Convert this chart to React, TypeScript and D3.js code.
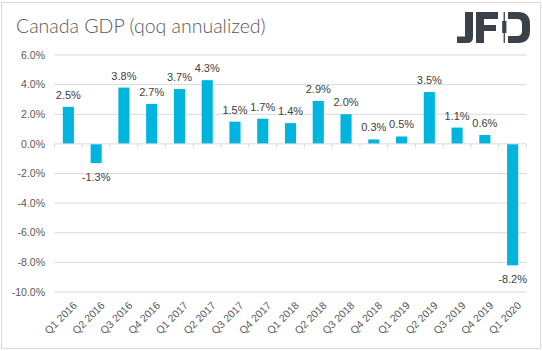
import React from "react";
import * as d3 from "d3";

const categories = ["Q1 2016","Q2 2016","Q3 2016","Q4 2016","Q1 2017","Q2 2017","Q3 2017","Q4 2017","Q1 2018","Q2 2018","Q3 2018","Q4 2018","Q1 2019","Q2 2019","Q3 2019","Q4 2019","Q1 2020"];
const values = [2.5,-1.3,3.8,2.7,3.7,4.3,1.5,1.7,1.4,2.9,2.0,0.3,0.5,3.5,1.1,0.6,-8.2];
const yTicks = [6,4,2,0,-2,-4,-6,-8,-10];
const title = "Canada GDP (qoq annualized)";

const W = 543, H = 351;
const left = 54.5, right = 526.5, top = 55, bottom = 292;
const textColor = "#595959";
const gridColor = "#D9D9D9";
const barColor = "#00B5DD";
const font = "'Liberation Sans', Arial, sans-serif";

export default function App() {
  const x = d3.scaleBand<string>().domain(categories).range([left, right]).paddingInner(0.6).paddingOuter(0.3);
  const y = d3.scaleLinear().domain([-10, 6]).range([bottom, top]);
  const step = x.step();
  const fmt = (v: number) => v.toFixed(1) + "%";
  return (
    <svg width={W} height={H} style={{ position: "absolute", left: 0, top: 0, background: "#fff" }}>
      <rect x={1.5} y={2.5} width={539} height={346} fill="#fff" stroke={gridColor} />
      <text x={16} y={33} fontFamily="Lato, 'Open Sans', sans-serif" fontWeight={300} fontSize={19.5} fill={textColor}>{title}</text>
      {/* logo */}
      <g fill="#3B4149">
        <path d="M465,12 H473 V37 Q473,43 467,43 H457 V36.5 H465 Z" />
        <path d="M476,12 H498 V19 H484 V25 H496 V31 H484 V43 H476 Z" />
        <rect x={503.6} y={12} width={1.3} height={31} />
        <rect x={502.2} y={21} width={4.2} height={12} />
        <path d="M508,12 H518 Q530,12 530,24 V31 Q530,43 518,43 H508 V36 H517 Q522,36 522,31 V24 Q522,19 517,19 H508 Z" />
      </g>
      {yTicks.map((t) => (
        <g key={t}>
          {t !== 0 && <line x1={left} x2={right} y1={y(t)} y2={y(t)} stroke={gridColor} strokeWidth={1} />}
          <text x={45} y={y(t)} dy="0.35em" textAnchor="end" fontFamily={font} fontSize={10.5} fill={textColor}>{fmt(t)}</text>
        </g>
      ))}
      {categories.map((c, i) => {
        const v = values[i];
        const bx = x(c)!;
        const y0 = y(Math.max(0, v));
        const y1 = y(Math.min(0, v));
        return (
          <g key={c}>
            <rect x={bx} y={y0} width={x.bandwidth()} height={y1 - y0} fill={barColor} />
            <text x={bx + x.bandwidth() / 2} y={v >= 0 ? y0 - 8 : y1 + 18} textAnchor="middle" fontFamily={font} fontSize={11} fill="#404040">{fmt(v)}</text>
          </g>
        );
      })}
      <line x1={left} x2={right} y1={y(0)} y2={y(0)} stroke={gridColor} />
      {d3.range(categories.length + 1).map((i) => (
        <line key={i} x1={left + i * step} x2={left + i * step} y1={y(0)} y2={y(0) + 4} stroke={gridColor} />
      ))}
      {categories.map((c) => {
        const cx = x(c)! + x.bandwidth() / 2 + 4;
        const cy = 301;
        return (
          <text key={c} transform={`translate(${cx},${cy}) rotate(-45)`} textAnchor="end" dy="0.7em" fontFamily={font} fontSize={10.5} fill={textColor}>{c}</text>
        );
      })}
    </svg>
  );
}
